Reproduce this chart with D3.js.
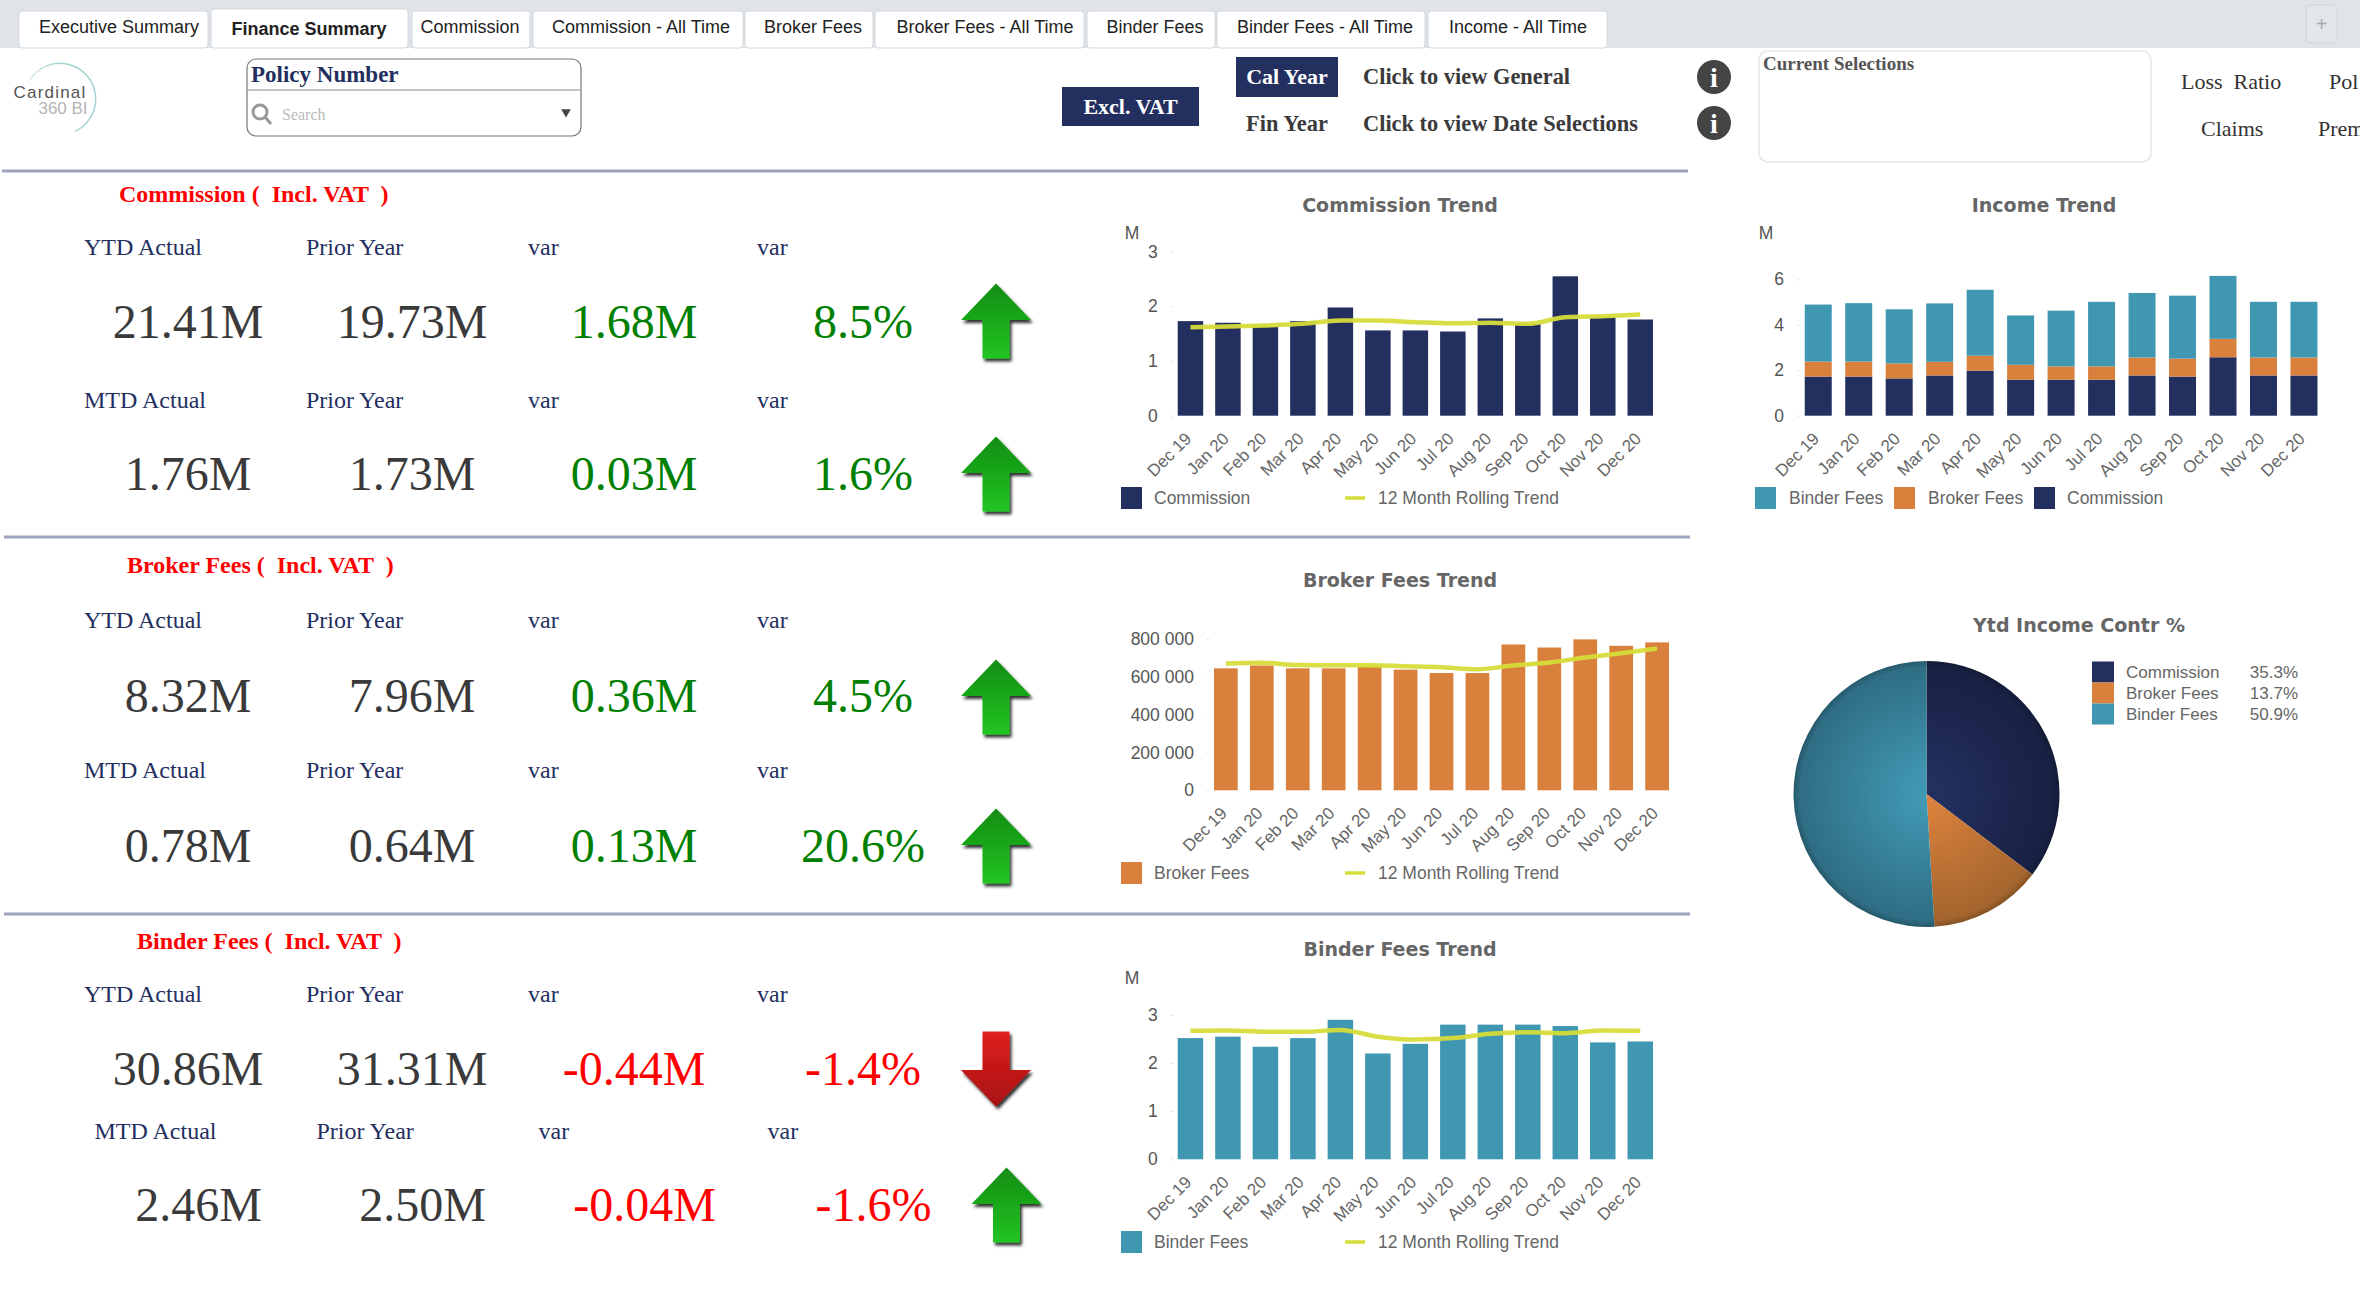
<!DOCTYPE html>
<html>
<head>
<meta charset="utf-8"/>
<style>
  body { margin: 0; background: #fff; overflow: hidden; }
  text { font-family: "Liberation Serif", serif; }
  .sans text, text.sans { font-family: "Liberation Sans", Arial, sans-serif; }
</style>
</head>
<body>
<script src="https://d3js.org/d3.v7.min.js"></script>
<script>
// chart data
var months = ["Dec 19","Jan 20","Feb 20","Mar 20","Apr 20","May 20","Jun 20","Jul 20","Aug 20","Sep 20","Oct 20","Nov 20","Dec 20"];

var commission      = [1.73,1.70,1.63,1.73,1.98,1.56,1.56,1.54,1.78,1.68,2.55,1.80,1.76];
var commissionTrend = [1.62,1.63,1.65,1.68,1.74,1.74,1.71,1.69,1.70,1.68,1.80,1.82,1.85];
var brokerFees      = [645000,660000,645000,645000,654000,638000,620000,620000,771000,755000,798000,764000,782000];
var brokerTrend     = [670000,674000,663000,661000,661000,656000,651000,640000,660000,676000,702000,725000,750000];
var binderFees      = [2.52,2.55,2.34,2.52,2.90,2.20,2.40,2.80,2.80,2.80,2.77,2.43,2.45];
var binderTrend     = [2.67,2.68,2.65,2.65,2.69,2.55,2.49,2.52,2.61,2.64,2.62,2.68,2.67];

var incomeCommission = [1.72,1.72,1.64,1.77,1.98,1.58,1.58,1.58,1.77,1.72,2.57,1.77,1.77];
var incomeBroker     = [0.66,0.66,0.66,0.60,0.66,0.66,0.59,0.59,0.79,0.79,0.81,0.79,0.79];
var incomeBinder     = [2.51,2.57,2.38,2.57,2.90,2.17,2.45,2.84,2.84,2.77,2.77,2.45,2.45];

var pieLabels = ["Commission","Broker Fees","Binder Fees"];
var pieValues = [35.3,13.7,50.9];

var tabs = ["Executive Summary","Finance Summary","Commission","Commission - All Time","Broker Fees","Broker Fees - All Time","Binder Fees","Binder Fees - All Time","Income - All Time"];
var tabEdges = [[19,208],[211,408],[412,530],[533,743],[745,873],[875,1084],[1087,1215],[1217,1425],[1428,1607]];
var tabTextX = [119,309,470,641,813,985,1155,1325,1518];

var kpiTitles = ["Commission (  Incl. VAT  )","Broker Fees (  Incl. VAT  )","Binder Fees (  Incl. VAT  )"];
var kpiHeaders = [["YTD Actual","Prior Year","var","var"],["MTD Actual","Prior Year","var","var"]];
var kpiValues = [
  [["21.41M","19.73M","1.68M","8.5%"],["1.76M","1.73M","0.03M","1.6%"]],
  [["8.32M","7.96M","0.36M","4.5%"],["0.78M","0.64M","0.13M","20.6%"]],
  [["30.86M","31.31M","-0.44M","-1.4%"],["2.46M","2.50M","-0.04M","-1.6%"]]
];
var kpiArrows = [["up","up"],["up","up"],["down","up"]];

var navy = "#232f5f", orange = "#d9813c", teal = "#4097b2", trendCol = "#d6dc3a";
var greyText = "#666";

var svg = d3.select("body").append("svg")
  .attr("width", 2360).attr("height", 1296)
  .attr("xmlns", "http://www.w3.org/2000/svg");
var defs = svg.append("defs");

// ---- tab strip ----
svg.append("rect").attr("width", 2360).attr("height", 48).attr("fill", "#dfe4e9");
tabs.forEach(function(t, i) {
  var e = tabEdges[i], active = i == 1;
  svg.append("rect").attr("x", e[0]).attr("y", active ? 9 : 11)
    .attr("width", e[1] - e[0]).attr("height", active ? 39 : 37).attr("rx", 3)
    .attr("fill", "#fff").attr("stroke", "#d3d7db");
  svg.append("text").attr("class", "sans")
    .attr("x", tabTextX[i]).attr("y", active ? 35 : 33)
    .attr("text-anchor", "middle").attr("font-size", 18)
    .attr("textLength", null)
    .attr("font-weight", active ? "bold" : "normal").attr("fill", "#222").text(t);
});
svg.append("rect").attr("x", 2306).attr("y", 5).attr("width", 31).attr("height", 38).attr("rx", 4)
  .attr("fill", "#e4e7ea").attr("stroke", "#cfd3d7");
svg.append("text").attr("class", "sans").attr("x", 2321.5).attr("y", 31).attr("text-anchor", "middle")
  .attr("font-size", 20).attr("fill", "#aaa").text("+");

// ---- logo ----
var logoArc = d3.arc().innerRadius(35).outerRadius(36.5);
svg.append("path").attr("transform", "translate(60,99)")
  .attr("d", logoArc({startAngle: -0.6, endAngle: 2.7})).attr("fill", "#a5d5d2");
svg.append("path").attr("transform", "translate(60,99)")
  .attr("d", logoArc({startAngle: -1.0, endAngle: -0.6})).attr("fill", "#cfe8e6");
svg.append("text").attr("class", "sans").attr("x", 50).attr("y", 98).attr("text-anchor", "middle")
  .attr("font-size", 17).attr("letter-spacing", 1.2).attr("fill", "#555").text("Cardinal");
svg.append("text").attr("class", "sans").attr("x", 63).attr("y", 114).attr("text-anchor", "middle")
  .attr("font-size", 17).attr("fill", "#b5b5b5").text("360 BI");

// ---- policy box ----
svg.append("rect").attr("x", 247).attr("y", 59).attr("width", 334).attr("height", 77).attr("rx", 9)
  .attr("fill", "#fff").attr("stroke", "#777").attr("stroke-width", 1.2);
svg.append("line").attr("x1", 247).attr("x2", 581).attr("y1", 90).attr("y2", 90).attr("stroke", "#888");
svg.append("text").attr("x", 251).attr("y", 82).attr("font-size", 23).attr("font-weight", "bold")
  .attr("fill", navy).text("Policy Number");
svg.append("circle").attr("cx", 260).attr("cy", 112).attr("r", 7).attr("fill", "none").attr("stroke", "#999").attr("stroke-width", 3);
svg.append("line").attr("x1", 265).attr("y1", 117).attr("x2", 271).attr("y2", 124).attr("stroke", "#999").attr("stroke-width", 3);
svg.append("text").attr("x", 282).attr("y", 120).attr("font-size", 16).attr("fill", "#bbb").text("Search");
svg.append("path").attr("d", d3.symbol().type(d3.symbolTriangle).size(40))
  .attr("transform", "translate(566,112) rotate(180)").attr("fill", "#444");

// ---- buttons ----
function button(x, y, w, h, label) {
  svg.append("rect").attr("x", x).attr("y", y).attr("width", w).attr("height", h).attr("fill", navy);
  svg.append("text").attr("x", x + w / 2).attr("y", y + h / 2 + 7).attr("text-anchor", "middle")
    .attr("font-size", 22).attr("font-weight", "bold").attr("fill", "#fff").text(label);
}
button(1062, 87, 137, 39, "Excl. VAT");
button(1236, 57, 102, 40, "Cal Year");

function boldText(x, y, anchor, label) {
  svg.append("text").attr("x", x).attr("y", y).attr("text-anchor", anchor)
    .attr("font-size", 22.4).attr("font-weight", "bold").attr("fill", "#3a3a3a").text(label);
}
boldText(1287, 131, "middle", "Fin Year");
boldText(1363, 84, "start", "Click to view General");
boldText(1363, 131, "start", "Click to view Date Selections");

[77, 123].forEach(function(cy) {
  svg.append("circle").attr("cx", 1714).attr("cy", cy).attr("r", 17).attr("fill", "#444");
  svg.append("text").attr("x", 1714).attr("y", cy + 10).attr("text-anchor", "middle")
    .attr("font-size", 28).attr("font-weight", "bold").attr("fill", "#fff").text("i");
});

svg.append("rect").attr("x", 1759).attr("y", 51).attr("width", 392).attr("height", 111).attr("rx", 9)
  .attr("fill", "#fff").attr("stroke", "#e6e6e6").attr("stroke-width", 1.5);
svg.append("text").attr("x", 1763).attr("y", 70).attr("font-size", 19).attr("font-weight", "bold")
  .attr("fill", "#555").text("Current Selections");

[[2181, 89, "Loss  Ratio"], [2329, 89, "Pol"], [2201, 136, "Claims"], [2318, 136, "Prem"]].forEach(function(d) {
  svg.append("text").attr("x", d[0]).attr("y", d[1]).attr("font-size", 22).attr("fill", "#333")
    .style("white-space", "pre").text(d[2]);
});

// ---- divider lines ----
[171, 537, 914].forEach(function(y, i) {
  svg.append("line").attr("x1", i == 0 ? 2 : 4).attr("x2", i == 0 ? 1688 : 1690)
    .attr("y1", y).attr("y2", y).attr("stroke", "#9ea3bd").attr("stroke-width", 3);
});

// ---- KPI arrows ----
function gradient(id, top, bottom) {
  var g = defs.append("linearGradient").attr("id", id).attr("x1", 0).attr("y1", 0).attr("x2", 0).attr("y2", 1);
  g.append("stop").attr("offset", 0).attr("stop-color", top);
  g.append("stop").attr("offset", 1).attr("stop-color", bottom);
}
gradient("arrowUp", "#118c11", "#22c522");
gradient("arrowDown", "#e02020", "#a81010");
var shadow = defs.append("filter").attr("id", "arrowShadow").attr("x", "-20%").attr("y", "-20%").attr("width", "150%").attr("height", "150%");
shadow.append("feDropShadow").attr("dx", 2).attr("dy", 3).attr("stdDeviation", 1.5).attr("flood-color", "#000").attr("flood-opacity", 0.8);

function arrow(cx, cy, dir) {
  var s = dir == "up" ? 1 : -1;
  var pts = [[0,-37.5],[35,-1],[13.5,-1],[13.5,37.5],[-13.5,37.5],[-13.5,-1],[-35,-1]];
  svg.append("path")
    .attr("d", d3.line()(pts.map(function(p) { return [cx + p[0], cy + s * p[1]]; })) + "Z")
    .attr("fill", dir == "up" ? "url(#arrowUp)" : "url(#arrowDown)")
    .attr("filter", "url(#arrowShadow)");
}

// ---- KPI blocks ----
var kpiRows = [
  {title: [119, 202], head: [255, 408], val: [338, 490], arrowY: [321, 474]},
  {title: [127, 573], head: [628, 778], val: [712, 862], arrowY: [697, 846]},
  {title: [137, 949], head: [1002, 1139], val: [1085, 1221], arrowY: [1069, 1205]}
];
var headX = [84, 306, 528, 757], valX = [188, 412, 634, 863];

kpiRows.forEach(function(r, s) {
  svg.append("text").attr("x", r.title[0]).attr("y", r.title[1]).attr("font-size", 24)
    .attr("font-weight", "bold").attr("fill", "#f00")
    .style("white-space", "pre").text(kpiTitles[s]);
  [0, 1].forEach(function(row) {
    var dx = (s == 2 && row == 1) ? 10.5 : 0;
    kpiHeaders[row].forEach(function(h, i) {
      svg.append("text").attr("x", headX[i] + dx).attr("y", r.head[row]).attr("font-size", 24)
        .attr("fill", navy).text(h);
    });
    kpiValues[s][row].forEach(function(v, i) {
      var col = i < 2 ? "#3a3a3a" : (v.charAt(0) == "-" ? "#f00" : "#008000");
      svg.append("text").attr("x", valX[i] + dx).attr("y", r.val[row]).attr("text-anchor", "middle")
        .attr("font-size", 48).attr("fill", col).text(v);
    });
    arrow(996 + dx, r.arrowY[row], kpiArrows[s][row]);
  });
});

// ---- trend charts ----
function chartTitle(cx, y, label) {
  svg.append("text").attr("x", cx).attr("y", y).attr("text-anchor", "middle")
    .style("font-family", "'DejaVu Sans', sans-serif").attr("font-size", 19).attr("font-weight", "bold")
    .attr("fill", greyText).text(label);
}
function legendItem(g, x, y, col, label, textX) {
  g.append("rect").attr("x", x).attr("y", y - 11).attr("width", 21).attr("height", 22).attr("fill", col);
  g.append("text").attr("x", textX).attr("y", y + 6).attr("font-size", 17.5).attr("fill", greyText).text(label);
}
function trendLegend(g, y, label, col) {
  legendItem(g, 1121, y, col, label, 1154);
  g.append("line").attr("x1", 1345).attr("x2", 1365).attr("y1", y).attr("y2", y)
    .attr("stroke", trendCol).attr("stroke-width", 3.5);
  g.append("text").attr("x", 1378).attr("y", y + 6).attr("font-size", 17.5).attr("fill", greyText).text("12 Month Rolling Trend");
}
function drawAxes(g, x, y, ticks, fmt, baseline) {
  g.append("g").attr("transform", "translate(0," + baseline + ")")
    .call(d3.axisBottom(x).tickSize(0).tickPadding(0))
    .call(function(a) { a.select(".domain").remove(); })
    .selectAll("text").attr("font-size", 17).attr("fill", greyText).attr("text-anchor", "end")
    .attr("dy", 0).attr("transform", "translate(2,24) rotate(-45)");
  g.append("g").attr("transform", "translate(" + (x.range()[0] + 1) + ",0)")
    .call(d3.axisLeft(y).tickValues(ticks).tickFormat(fmt).tickSize(2).tickPadding(13))
    .call(function(a) { a.select(".domain").remove(); })
    .call(function(a) { a.selectAll("line").attr("stroke", "#ddd"); })
    .selectAll("text").attr("font-size", 17.5).attr("fill", "#555");
}

function barLineChart(opts) {
  var g = svg.append("g").attr("class", "sans");
  var x = d3.scaleBand().domain(months).range(opts.xRange).paddingInner(opts.pad).paddingOuter(opts.pad / 2);
  var y = d3.scaleLinear().domain([0, opts.top]).range([opts.base, opts.topY]);
  g.selectAll("rect.bar").data(opts.values).enter().append("rect").attr("class", "bar")
    .attr("x", function(d, i) { return x(months[i]); })
    .attr("y", function(d) { return y(d); })
    .attr("width", x.bandwidth())
    .attr("height", function(d) { return opts.base - y(d); })
    .attr("fill", opts.color);
  g.append("path").datum(opts.trend)
    .attr("fill", "none").attr("stroke", trendCol).attr("stroke-width", 4.5).attr("stroke-opacity", 0.95)
    .attr("d", d3.line()
      .x(function(d, i) { return x(months[i]) + x.bandwidth() / 2; })
      .y(function(d) { return y(d); })
      .curve(d3.curveMonotoneX));
  drawAxes(g, x, y, opts.ticks, opts.fmt, opts.base);
  if (opts.unitY) {
    g.append("text").attr("x", 1132).attr("y", opts.unitY).attr("text-anchor", "middle")
      .attr("font-size", 17.5).attr("fill", "#555").text("M");
  }
  trendLegend(g, opts.legendY, opts.label, opts.color);
  chartTitle(1400, opts.titleY, opts.title);
}

var spaced = function(d) { return d3.format(",")(d).replace(/,/g, " "); };

barLineChart({
  title: "Commission Trend", titleY: 212, label: "Commission", color: navy, values: commission, trend: commissionTrend,
  xRange: [1171.7, 1659], pad: 0.32, top: 3, base: 415.7, topY: 251.7, ticks: [0,1,2,3], fmt: d3.format("d"),
  unitY: 239, legendY: 498
});
barLineChart({
  title: "Broker Fees Trend", titleY: 587, label: "Broker Fees", color: orange, values: brokerFees, trend: brokerTrend,
  xRange: [1207.9, 1675.1], pad: 0.34, top: 800000, base: 790.3, topY: 639, ticks: [0,200000,400000,600000,800000], fmt: spaced,
  legendY: 873
});
barLineChart({
  title: "Binder Fees Trend", titleY: 956, label: "Binder Fees", color: teal, values: binderFees, trend: binderTrend,
  xRange: [1171.7, 1659], pad: 0.32, top: 3, base: 1159.3, topY: 1015, ticks: [0,1,2,3], fmt: d3.format("d"),
  unitY: 984, legendY: 1242
});

// ---- income stacked bars ----
(function() {
  var g = svg.append("g").attr("class", "sans");
  var rows = months.map(function(m, i) {
    return {month: m, commission: incomeCommission[i], broker: incomeBroker[i], binder: incomeBinder[i]};
  });
  var stack = d3.stack().keys(["commission","broker","binder"])(rows);
  var cols = {commission: navy, broker: orange, binder: teal};
  var x = d3.scaleBand().domain(months).range([1798, 2324.2]).paddingInner(0.333).paddingOuter(0.1665);
  var y = d3.scaleLinear().domain([0, 6]).range([415.7, 279.3]);
  g.selectAll("g.layer").data(stack).enter().append("g").attr("class", "layer")
    .attr("fill", function(d) { return cols[d.key]; })
    .selectAll("rect").data(function(d) { return d; }).enter().append("rect")
    .attr("x", function(d) { return x(d.data.month); })
    .attr("y", function(d) { return y(d[1]); })
    .attr("width", x.bandwidth())
    .attr("height", function(d) { return y(d[0]) - y(d[1]); });
  drawAxes(g, x, y, [0,2,4,6], d3.format("d"), 415.7);
  g.append("text").attr("x", 1766).attr("y", 239).attr("text-anchor", "middle")
    .attr("font-size", 17.5).attr("fill", "#555").text("M");
  legendItem(g, 1755, 498, teal, "Binder Fees", 1789);
  legendItem(g, 1894, 498, orange, "Broker Fees", 1928);
  legendItem(g, 2034, 498, navy, "Commission", 2067);
  chartTitle(2044, 212, "Income Trend");
})();

// ---- pie ----
(function() {
  var cx = 1926.5, cy = 794, r = 133;
  var cols = [navy, orange, teal];
  var dark = ["#182143", "#a4652e", "#2f6e84"];
  cols.forEach(function(c, i) {
    var g = defs.append("radialGradient").attr("id", "slice" + i);
    g.attr("gradientUnits", "userSpaceOnUse").attr("cx", 0).attr("cy", 0).attr("r", r);
    g.append("stop").attr("offset", 0.1).attr("stop-color", c);
    g.append("stop").attr("offset", 0.95).attr("stop-color", dark[i]);
    g.append("stop").attr("offset", 1).attr("stop-color", d3.rgb(dark[i]).darker(0.6));
  });
  var pie = d3.pie().sort(null)(pieValues);
  var arc = d3.arc().innerRadius(0).outerRadius(r);
  svg.append("g").attr("transform", "translate(" + cx + "," + cy + ")")
    .selectAll("path").data(pie).enter().append("path")
    .attr("d", arc)
    .attr("fill", function(d, i) { return "url(#slice" + i + ")"; });
  chartTitle(2079, 632, "Ytd Income Contr %");
  var lg = svg.append("g").attr("class", "sans");
  pieLabels.forEach(function(l, i) {
    lg.append("rect").attr("x", 2092).attr("y", 661.5 + i * 21).attr("width", 22).attr("height", 21).attr("fill", cols[i]);
    lg.append("text").attr("x", 2126).attr("y", 678 + i * 21).attr("font-size", 17).attr("fill", greyText).text(l);
    lg.append("text").attr("x", 2298).attr("y", 678 + i * 21).attr("text-anchor", "end").attr("font-size", 17)
      .attr("fill", greyText).text(pieValues[i] + "%");
  });
})();
</script>
</body>
</html>
